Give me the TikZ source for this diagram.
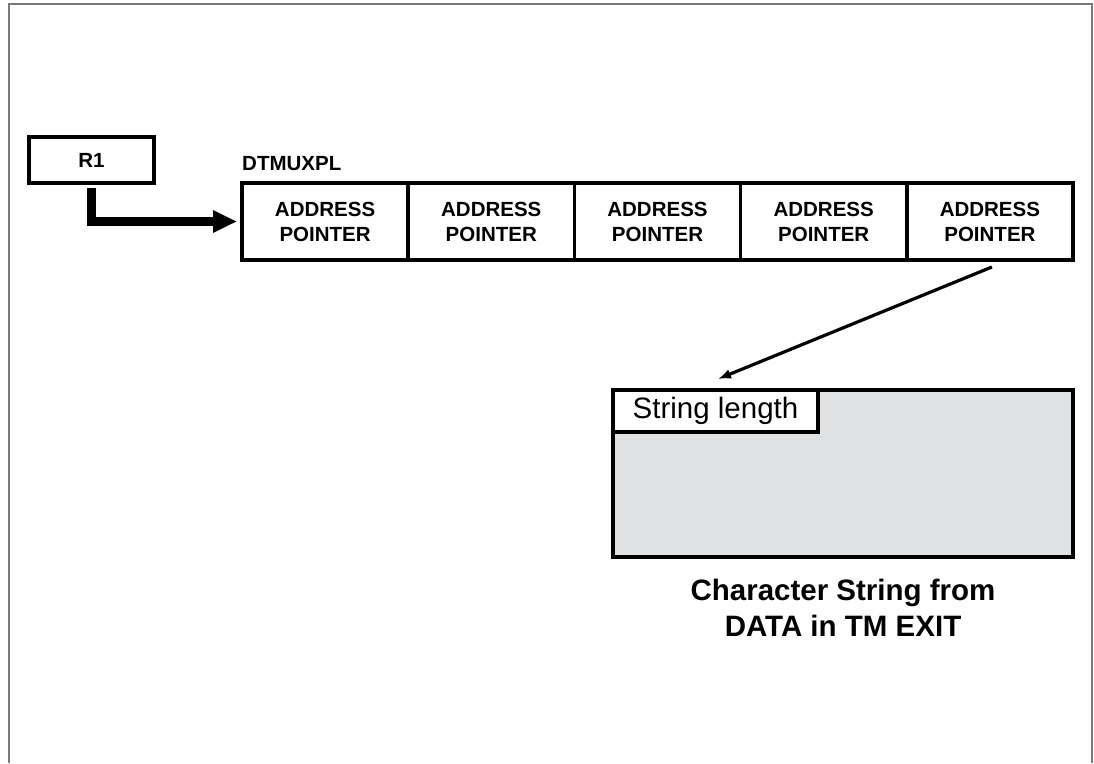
\documentclass[tikz,border=0pt]{standalone}
\usepackage{fontspec}
\setmainfont{Liberation Sans}
\usepackage{xcolor}
\usepackage{tikz}
\usetikzlibrary{arrows.meta,positioning}

\definecolor{stringgray}{HTML}{E1E2E4}
\definecolor{framegray}{HTML}{7A7A7A}

\tikzset{
  cell/.style={draw, line width=3.5pt, minimum width=166.2pt, minimum height=77pt,
    inner sep=0pt, outer sep=0pt, align=center,
    font=\fontsize{20.5}{25}\selectfont\bfseries},
  regbox/.style={draw, line width=3.5pt, minimum width=125pt, minimum height=46pt,
    inner sep=0pt, outer sep=0pt, font=\fontsize{20.5}{25}\selectfont\bfseries},
  stringbox/.style={draw, line width=4.2pt, fill=stringgray, minimum width=460pt,
    minimum height=167pt, inner sep=0pt, outer sep=0pt},
  lengthbox/.style={draw, line width=3.8pt, fill=white, minimum width=205pt,
    minimum height=42pt, inner sep=0pt, outer sep=0pt,
    font=\fontsize{29.5}{34}\selectfont},
  bigarrow/.style={line width=9pt, line join=miter,
    -{Triangle[length=24pt,width=21pt]}, shorten <=5pt, shorten >=5pt},
  ptr/.style={line width=3.2pt, -{Latex[length=13pt,width=10pt]}}
}

\begin{document}
\begin{tikzpicture}[x=1pt,y=-1pt]
\useasboundingbox (0,0) rectangle (1094,763);

% frame
\draw[framegray, line width=1.5pt] (9,763) -- (9,4) -- (1092,4) -- (1092,763);

% register and list of pointers
\node[regbox] (r1) at (91.5,160) {R1};
\node[cell] (c1) at (325.1,221.5) {ADDRESS\\POINTER};
\foreach \i [remember=\i as \j (initially 1)] in {2,...,5} {
\node[cell, right=0pt of c\j] (c\i) {ADDRESS\\POINTER}; }
\node[anchor=base west, inner sep=0pt, font=\fontsize{20.5}{25}\selectfont\bfseries]
  (dtm) at ([yshift=13pt]c1.north west) {DTMUXPL};

\draw[bigarrow] (r1.south) |- (c1.west);

% character string
\node[stringbox] (str) at (843,473.5) {};
\node[lengthbox, anchor=north west] (len) at (str.north west) {String length};
\node[below=22pt of str, inner sep=0pt, align=center,
  font=\fontsize{29.5}{36}\selectfont\bfseries] (cap) {Character String from\\DATA in TM EXIT};

\coordinate (tip) at (718,379);
\draw[ptr] ([shift={(2,7)}]c5.south) -- (tip);
\end{tikzpicture}
\end{document}
